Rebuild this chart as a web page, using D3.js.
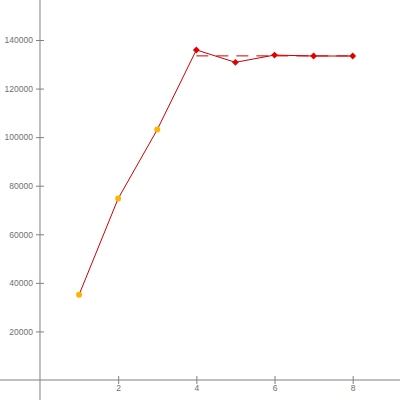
<!DOCTYPE html>
<html><head><meta charset="utf-8">
<script src="https://cdn.jsdelivr.net/npm/d3@7"></script>
<style>body{margin:0;background:#fff}svg{display:block}</style>
</head><body>
<script>
const xs = [1, 2, 3, 4, 5, 6, 7, 8];
const ys = [35100, 74700, 103100, 135900, 130800, 133800, 133400, 133400];
const kinds = ["circle","circle","circle","diamond","diamond","diamond","diamond","diamond"];
const xTicks = [2, 4, 6, 8];
const yTicks = [20000, 40000, 60000, 80000, 100000, 120000, 140000];
const W = 400, H = 400;
const svg = d3.select("body").append("svg").attr("width", W).attr("height", H);
const x = d3.scaleLinear().domain([-1.023, 9.21]).range([0, W]);
const y = d3.scaleLinear().domain([-8235, 156470]).range([H, 0]);
const axisCol = "#808080";
const font = "Liberation Sans, Arial, sans-serif";
// axes lines
svg.append("line").attr("x1", x(0)).attr("x2", x(0)).attr("y1", 0).attr("y2", H).attr("stroke", axisCol).attr("stroke-width", 1);
svg.append("line").attr("x1", 0).attr("x2", W).attr("y1", y(0)).attr("y2", y(0)).attr("stroke", axisCol).attr("stroke-width", 1);
// y ticks
const yg = svg.append("g").attr("transform", `translate(${x(0)},0)`).call(d3.axisLeft(y).tickValues(yTicks).tickSize(4).tickPadding(3).tickFormat(d3.format("d")));
yg.select(".domain").remove();
yg.selectAll(".tick line").attr("stroke", axisCol).attr("x2", 4).attr("x1", -4);
yg.selectAll(".tick text").attr("fill", "#707070").attr("font-size", 8.5).attr("font-family", font).attr("x", -7);
// x ticks
const xg = svg.append("g").attr("transform", `translate(0,${y(0)})`).call(d3.axisBottom(x).tickValues(xTicks).tickSize(4).tickPadding(2).tickFormat(d3.format("d")));
xg.select(".domain").remove();
xg.selectAll(".tick line").attr("stroke", axisCol).attr("y1", -4).attr("y2", 4);
xg.selectAll(".tick text").attr("fill", "#707070").attr("font-size", 8.5).attr("font-family", font).attr("y", 5);
// mean dashed line for points 4..8
const sub = ys.slice(3);
const mean = d3.mean(sub);
svg.append("line").attr("x1", x(4)).attr("x2", x(8)).attr("y1", y(mean)).attr("y2", y(mean))
  .attr("stroke", "#cc0000").attr("stroke-width", 1).attr("stroke-dasharray", "12,8");
// main line
const data = xs.map((v, i) => ({x: v, y: ys[i], k: kinds[i]}));
svg.append("path").datum(data).attr("fill", "none").attr("stroke", "#cc0000").attr("stroke-width", 1)
  .attr("d", d3.line().x(d => x(d.x)).y(d => y(d.y)));
// markers
svg.selectAll(".c").data(data.filter(d => d.k === "circle")).join("circle")
  .attr("cx", d => x(d.x)).attr("cy", d => y(d.y)).attr("r", 3).attr("fill", "#ffb400");
svg.selectAll(".dm").data(data.filter(d => d.k === "diamond")).join("path")
  .attr("transform", d => `translate(${x(d.x)},${y(d.y)})`)
  .attr("d", d3.symbol(d3.symbolDiamond2, 30)).attr("fill", "#e00000");
</script>
</body></html>
